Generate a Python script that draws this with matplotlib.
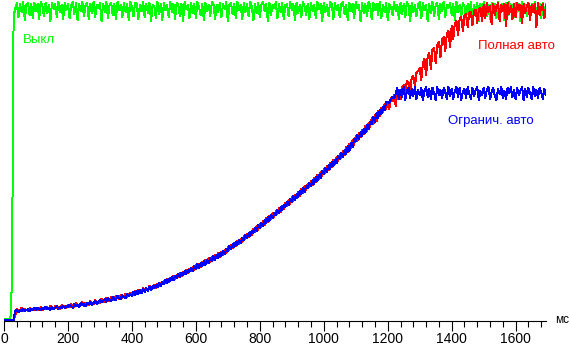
import numpy as np
import matplotlib
matplotlib.use("Agg")
import matplotlib.pyplot as plt
from matplotlib.ticker import MultipleLocator

# time grid, ms (one sample every 5 ms)
t_ms = np.arange(0, 1700, 5)

# signal level (arbitrary units, ~1 unit per pixel)
green_off = [
    2, 2, 2, 2, 2, 40, 305, 312, 318, 304, 317, 309, 319, 301, 316, 318, 306, 317, 303, 318,
    310, 317, 302, 319, 315, 305, 318, 308, 316, 300, 318, 312, 317, 304, 319, 309, 316, 302, 318, 311,
    317, 303, 316, 319, 307, 318, 301, 317, 310, 319, 305, 316, 318, 302, 317, 308, 319, 304, 316, 313,
    318, 300, 317, 309, 319, 303, 316, 318, 306, 317, 302, 319, 311, 316, 304, 318, 309, 317, 301, 319,
    314, 305, 318, 317, 302, 316, 310, 319, 304, 317, 308, 318, 300, 316, 315, 303, 319, 307, 317, 301,
    318, 311, 316, 304, 319, 309, 317, 302, 318, 316, 305, 317, 300, 319, 312, 316, 303, 318, 308, 317,
    303, 319, 314, 306, 317, 301, 318, 310, 316, 305, 319, 317, 302, 316, 309, 318, 304, 317, 312, 319,
    300, 316, 318, 307, 317, 303, 319, 311, 316, 302, 318, 309, 317, 305, 319, 315, 301, 317, 308, 318,
    304, 316, 319, 310, 317, 300, 318, 306, 316, 313, 319, 303, 317, 309, 318, 302, 316, 317, 305, 319,
    311, 317, 301, 318, 308, 316, 304, 319, 314, 306, 317, 302, 318, 310, 316, 303, 319, 312, 317, 300,
    318, 309, 316, 305, 319, 317, 302, 318, 311, 316, 304, 317, 319, 307, 316, 301, 318, 310, 317, 303,
    319, 313, 316, 300, 318, 308, 317, 305, 319, 316, 302, 318, 311, 317, 306, 319, 303, 316, 309, 318,
    301, 317, 314, 306, 319, 310, 316, 302, 318, 307, 317, 304, 319, 315, 300, 318, 309, 316, 305, 317,
    319, 303, 318, 311, 316, 300, 317, 308, 319, 305, 316, 318, 302, 317, 310, 319, 304, 316, 313, 318,
    306, 317, 301, 319, 309, 316, 304, 318, 315, 302, 317, 308, 319, 303, 316, 311, 318, 300, 317, 307,
    319, 314, 305, 316, 302, 318, 310, 317, 303, 319, 308, 316, 317, 301, 318, 306, 319, 312, 316, 304,
    318, 309, 317, 300, 319, 313, 316, 305, 318, 302, 317, 310, 319, 306, 316, 317, 303, 318, 308, 317,
]

red_full = [
    1, 1, 1, 1, 1, 1, 1, 5, 12, 10, 11, 13, 10, 12, 11, 10, 13, 11, 12, 11,
    13, 11, 12, 14, 11, 13, 12, 14, 12, 15, 13, 12, 15, 13, 14, 12, 16, 14, 15, 13,
    16, 14, 17, 15, 14, 18, 16, 15, 17, 19, 15, 18, 17, 16, 20, 18, 17, 21, 19, 18,
    18, 22, 20, 19, 23, 21, 20, 24, 22, 21, 25, 23, 22, 26, 23, 25, 27, 24, 26, 28,
    28, 26, 30, 27, 31, 29, 28, 33, 30, 32, 31, 35, 32, 34, 36, 33, 37, 35, 38, 37,
    40, 38, 42, 39, 43, 41, 45, 42, 46, 44, 48, 45, 49, 47, 51, 48, 52, 50, 54, 51,
    56, 53, 57, 54, 59, 56, 61, 58, 63, 59, 64, 61, 66, 63, 68, 64, 69, 66, 71, 68,
    74, 71, 76, 73, 78, 75, 80, 77, 82, 79, 85, 82, 87, 84, 89, 86, 92, 89, 95, 91,
    97, 94, 100, 96, 103, 99, 105, 102, 108, 104, 110, 107, 113, 109, 115, 112, 118, 115, 121, 117,
    124, 120, 126, 123, 129, 125, 132, 128, 135, 131, 137, 134, 140, 136, 143, 139, 146, 142, 149, 145,
    152, 148, 155, 151, 158, 154, 161, 157, 164, 160, 167, 163, 170, 166, 174, 169, 177, 173, 181, 176,
    185, 180, 188, 184, 191, 187, 195, 190, 198, 194, 203, 197, 206, 200, 210, 205, 213, 209, 217, 212,
    218, 212, 223, 220, 226, 215, 229, 231, 222, 234, 236, 228, 240, 238, 230, 243, 245, 235, 248, 250,
    253, 241, 258, 262, 246, 265, 268, 252, 271, 273, 258, 276, 279, 264, 282, 284, 270, 288, 290, 274,
    295, 282, 298, 300, 286, 302, 304, 290, 305, 307, 294, 308, 309, 296, 310, 311, 298, 312, 313, 300,
    316, 303, 318, 309, 315, 297, 317, 306, 314, 318, 300, 316, 310, 317, 295, 318, 307, 315, 302, 317,
    304, 318, 311, 316, 298, 317, 308, 315, 318, 301, 316, 309, 317, 294, 318, 306, 314, 317, 303, 316,
]

blue_limited = [
    1, 1, 1, 1, 1, 1, 1, 10, 11, 9, 11, 10, 12, 10, 11, 12, 10, 12, 11, 13,
    11, 13, 12, 11, 13, 12, 14, 12, 13, 11, 14, 12, 13, 15, 12, 14, 13, 15, 13, 15,
    14, 16, 15, 13, 17, 15, 16, 14, 18, 16, 17, 15, 18, 17, 19, 16, 18, 20, 17, 19,
    21, 19, 20, 22, 19, 23, 21, 20, 24, 22, 21, 25, 23, 22, 26, 24, 23, 27, 25, 27,
    25, 29, 26, 30, 27, 31, 28, 32, 29, 33, 30, 34, 31, 35, 33, 36, 34, 38, 35, 39,
    37, 41, 38, 42, 40, 44, 41, 45, 43, 47, 44, 48, 46, 50, 47, 51, 49, 53, 50, 55,
    52, 57, 53, 58, 55, 60, 56, 61, 58, 63, 60, 65, 61, 66, 63, 68, 65, 70, 67, 72,
    70, 75, 72, 77, 74, 79, 76, 81, 78, 83, 81, 86, 83, 88, 85, 90, 88, 93, 90, 96,
    93, 98, 95, 101, 98, 104, 100, 106, 103, 108, 106, 111, 108, 114, 111, 116, 114, 119, 116, 122,
    119, 125, 121, 127, 124, 130, 127, 133, 129, 135, 133, 138, 135, 141, 137, 144, 140, 146, 143, 150,
    147, 153, 149, 156, 152, 159, 155, 161, 158, 165, 162, 168, 164, 171, 167, 175, 170, 178, 174, 182,
    180, 186, 182, 189, 185, 192, 188, 196, 192, 199, 197, 204, 199, 208, 203, 211, 207, 214, 211, 219,
    219, 218, 222, 224, 223, 227, 233, 222, 231, 224, 234, 221, 230, 233, 223, 232, 225, 234, 222, 231,
    226, 233, 221, 230, 234, 224, 232, 222, 233, 228, 221, 234, 226, 231, 223, 233, 229, 222, 234, 225,
    232, 222, 230, 234, 224, 233, 221, 229, 232, 223, 234, 227, 222, 233, 225, 231, 234, 221, 230, 226,
    233, 223, 231, 234, 222, 229, 233, 225, 221, 232, 227, 234, 223, 230, 222, 233, 228, 234, 224, 231,
    222, 233, 226, 230, 234, 221, 232, 224, 233, 228, 222, 234, 225, 231, 223, 233, 229, 222, 232, 226,
]

GREEN = "#00ff00"
RED = "#ff0000"
BLUE = "#0000ff"

plt.rcParams['font.family'] = ['Liberation Sans', 'DejaVu Sans']

fig = plt.figure(figsize=(5.69, 3.47), dpi=100)
W, H = 569, 347
ax = fig.add_axes([4 / W, 26 / H, 542 / W, 321 / H])

ax.plot(t_ms, green_off, color=GREEN, lw=0.72, antialiased=False)
ax.plot(t_ms, red_full, color=RED, lw=0.72, antialiased=False)
ax.plot(t_ms, blue_limited, color=BLUE, lw=0.72, antialiased=False)

ax.set_xlim(0, 1695)
ax.set_ylim(0, 321)

for s in ["left", "right", "top"]:
    ax.spines[s].set_visible(False)
ax.spines["bottom"].set_linewidth(0.8)
ax.set_yticks([])
ax.xaxis.set_major_locator(MultipleLocator(200))
ax.xaxis.set_minor_locator(MultipleLocator(40))
ax.tick_params(axis="x", which="major", length=7, width=0.8, pad=1, labelsize=10)
ax.tick_params(axis="x", which="minor", length=4.5, width=0.8)

ax.text(58, 278, "Выкл", color=GREEN, fontsize=9.5, ha="left", va="baseline")
ax.text(1722, 272, "Полная авто", color=RED, fontsize=9.5, ha="right", va="baseline")
ax.text(1656, 197, "Огранич. авто", color=BLUE, fontsize=9.5, ha="right", va="baseline")
ax.text(1725, -2, "мс", color="black", fontsize=8.5, ha="left", va="baseline", clip_on=False)

fig.savefig("out.png", dpi=100)
